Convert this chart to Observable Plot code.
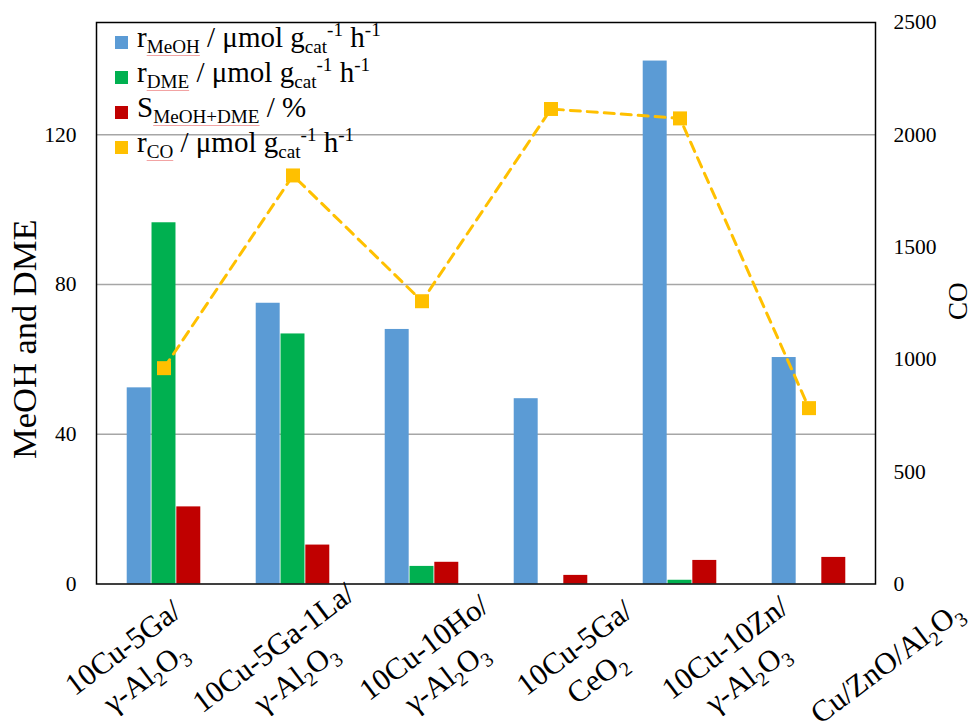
<!DOCTYPE html>
<html>
<head>
<meta charset="utf-8">
<script src="https://cdn.jsdelivr.net/npm/d3@7"></script>
<script src="https://cdn.jsdelivr.net/npm/@observablehq/plot@0.6"></script>
<style>
html,body{margin:0;padding:0;background:#fff;}
#wrap{position:relative;width:972px;height:721px;font-family:"Liberation Serif","Times New Roman",serif;}
#wrap svg{position:absolute;left:0;top:0;}
#legend{position:absolute;left:115px;top:20px;font-size:29px;line-height:35px;color:#000;}
#legend .row{position:relative;height:35px;padding-left:22px;white-space:nowrap;}
#legend .sw{position:absolute;left:0;top:15.5px;width:13px;height:13px;}
#legend sub,#legend sup{font-size:66%;line-height:0;position:relative;vertical-align:baseline;}
#legend sub{top:0.3em;}
#legend sup{top:-0.55em;}
.wv{text-decoration:underline;text-decoration-color:#f2a3a3;text-decoration-thickness:1px;text-underline-offset:2px;}
</style>
</head>
<body>
<div id="wrap"><div id="legend"></div></div>
<script>
// ---- data ----
const categories = [
  "10Cu-5Ga/\nγ-Al_2O_3",
  "10Cu-5Ga-1La/\nγ-Al_2O_3",
  "10Cu-10Ho/\nγ-Al_2O_3",
  "10Cu-5Ga/\nCeO_2",
  "10Cu-10Zn/\nγ-Al_2O_3",
  "Cu/ZnO/Al_2O_3"
];
const rMeOH    = [52.4, 75.0, 68.0, 49.5, 139.7, 60.5];
const rDME     = [96.5, 66.8, 4.7, 0, 1.0, 0];
const sMeOHDME = [20.6, 10.4, 5.8, 2.3, 6.3, 7.1];
const rCO      = [961, 1819, 1259, 2115, 2073, 783];
const leftTicks  = [0, 40, 80, 120];
const rightTicks = [0, 500, 1000, 1500, 2000, 2500];
const gridVals   = [40, 80, 120];
const leftTitle  = "MeOH and DME";
const rightTitle = "CO";
const legendLabels = [
  'r<sub class="wv">MeOH</sub> / μmol g<sub>cat</sub><sup>-1</sup> h<sup>-1</sup>',
  'r<sub class="wv">DME</sub> / μmol g<sub>cat</sub><sup>-1</sup> h<sup>-1</sup>',
  'S<sub class="wv">MeOH+DME</sub> / %',
  'r<sub class="wv">CO</sub> / μmol g<sub>cat</sub><sup>-1</sup> h<sup>-1</sup>'
];
const colors = ["#5b9bd5", "#00b050", "#c00000", "#ffc000"];

// ---- layout ----
const W = 972, H = 721;
const mL = 96, mR = 97, mT = 22, mB = 137.5;
const yMax = 150, coMax = 2500, k = yMax / coMax;

const rows = categories.map((c, i) => ({cat: c, meoh: rMeOH[i], dme: rDME[i], sel: sMeOHDME[i], co: rCO[i]}));
const bw = (W - mL - mR) / categories.length;
const barW = 24.8;
const inset = (bw - barW) / 2;
const bar = (key, color, dx) => Plot.barY(rows, {x: "cat", y: key, fill: color, insetLeft: inset, insetRight: inset, dx});

const plot = Plot.plot({
  width: W, height: H,
  marginLeft: mL, marginRight: mR, marginTop: mT, marginBottom: mB,
  style: {fontFamily: "'Liberation Serif','Times New Roman',serif", fontSize: "21.5px", background: "transparent", overflow: "visible", color: "#000"},
  x: {domain: categories, padding: 0, axis: null},
  y: {domain: [0, yMax], axis: null},
  marks: [
    Plot.ruleY(gridVals, {stroke: "#a6a6a6", strokeWidth: 1.5}),
    bar("meoh", colors[0], -barW),
    bar("dme", colors[1], 0),
    bar("sel", colors[2], barW),
    Plot.line(rows, {x: "cat", y: d => d.co * k, stroke: colors[3], strokeWidth: 3, strokeDasharray: "10,7"}),
    Plot.dot(rows, {x: "cat", y: d => d.co * k, symbol: "square", r: 7.9, fill: colors[3], stroke: null}),
    Plot.frame({stroke: "#000", strokeWidth: 1.5}),
    Plot.axisY({anchor: "left", ticks: leftTicks, tickSize: 0, tickPadding: 20, label: null}),
    Plot.axisY({anchor: "right", ticks: rightTicks.map(v => v * k), tickFormat: v => String(Math.round(v / k)), tickSize: 0, tickPadding: 18, label: null}),
    Plot.text([leftTitle], {frameAnchor: "left", textAnchor: "middle", lineAnchor: "middle", rotate: -90, dx: -72, dy: 36, fontSize: 34.5}),
    Plot.text([rightTitle], {frameAnchor: "right", textAnchor: "middle", lineAnchor: "middle", rotate: -90, dx: 83, dy: -2, fontSize: 27}),
    ...categories.map((c, i) => Plot.text([c], {
      x: d => d, frameAnchor: "bottom", dy: 77, dx: -31 + 21.5 * i,
      rotate: -37, textAnchor: "middle", lineAnchor: "middle", lineHeight: 1.22, fontSize: 30.5
    }))
  ]
});

// subscripts for "_n" markup in SVG text
function subify(el) {
  const txt = el.textContent;
  if (!txt.includes("_")) return;
  const fs = parseFloat(getComputedStyle(el).fontSize) || 30;
  el.textContent = "";
  txt.split(/_(\d)/).forEach((p, j) => {
    if (!p) return;
    if (j % 2 === 0) el.appendChild(document.createTextNode(p));
    else {
      const t = document.createElementNS("http://www.w3.org/2000/svg", "tspan");
      t.setAttribute("font-size", (fs * 0.66).toFixed(1));
      t.setAttribute("baseline-shift", (-fs * 0.22).toFixed(1));
      t.textContent = p;
      el.appendChild(t);
    }
  });
}
const wrap = document.getElementById("wrap");
wrap.insertBefore(plot, wrap.firstChild);
plot.querySelectorAll("text").forEach(t => {
  const spans = t.querySelectorAll("tspan");
  if (spans.length) spans.forEach(subify); else subify(t);
});

// legend
const legend = document.getElementById("legend");
legendLabels.forEach((html, i) => {
  const row = document.createElement("div");
  row.className = "row";
  row.innerHTML = `<span class="sw" style="background:${colors[i]}"></span>${html}`;
  legend.appendChild(row);
});
</script>
</body>
</html>
